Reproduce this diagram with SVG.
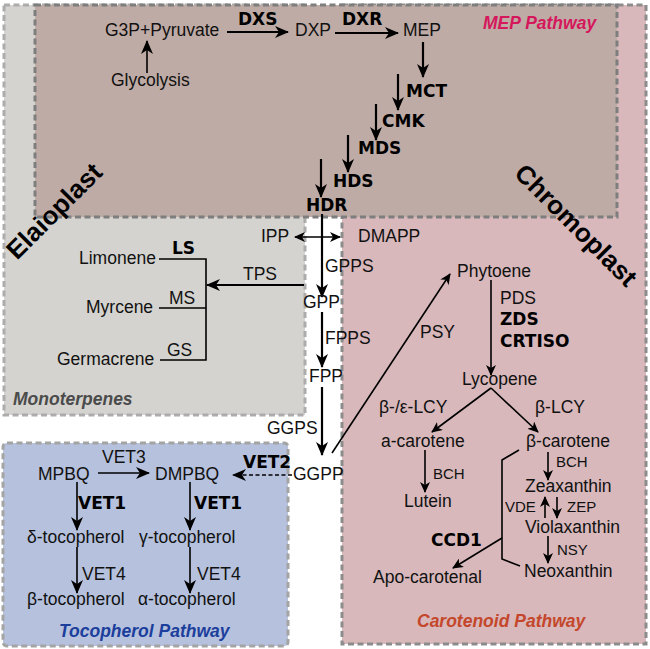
<svg xmlns="http://www.w3.org/2000/svg" width="650" height="649" viewBox="0 0 650 649">
<defs>
<style>
.t{font-family:"Liberation Sans",Arial,sans-serif;font-size:17.5px;fill:#111}
.s{font-size:15px}
.b{font-family:"DejaVu Sans",Verdana,sans-serif;font-weight:bold;font-size:17px;fill:#000}
.ti{font-family:"Liberation Sans",Arial,sans-serif;font-weight:bold;font-style:italic;font-size:17.5px}
.big{font-family:"Liberation Sans",Arial,sans-serif;font-weight:bold;font-size:26px;fill:#000}
.ln{stroke:#000;stroke-width:1.6;fill:none}
.th{stroke-width:2.2}
.reg{stroke-width:3;stroke-dasharray:6 3.5}
</style>
<marker id="ah" markerWidth="14" markerHeight="12" refX="13" refY="6" orient="auto" markerUnits="userSpaceOnUse"><path d="M0,0 L14,6 L0,12 L4,6 z" fill="#000"/></marker>
<marker id="as" markerWidth="11" markerHeight="10" refX="10" refY="5" orient="auto" markerUnits="userSpaceOnUse"><path d="M0,0 L11,5 L0,10 L3,5 z" fill="#000"/></marker>
<marker id="ass" markerWidth="11" markerHeight="10" refX="1" refY="5" orient="auto" markerUnits="userSpaceOnUse"><path d="M11,0 L0,5 L11,10 L8,5 z" fill="#000"/></marker>
</defs>
<rect width="650" height="649" fill="#fff"/>
<g id="regions">
<rect id="elaioplast-region" x="4" y="5" width="301" height="410" fill="#d4d3cf" stroke="#acacac" class="reg"/>
<rect id="chromoplast-region" x="342" y="5" width="304" height="639" fill="#d8b8bb" stroke="#8c8c8c" class="reg"/>
<rect id="mep-region" x="35" y="5" width="582" height="212" fill="#bfaba5" stroke="#7e7e7e" class="reg"/>
<rect id="tocopherol-region" x="3" y="443" width="285" height="203" rx="4" fill="#b5c1dd" stroke="#a4a4a4" class="reg"/>
</g>
<g id="region-labels">
<text class="big" text-anchor="middle" transform="translate(54,211) rotate(-45)" y="9">Elaioplast</text>
<text class="big" text-anchor="middle" transform="translate(576,225) rotate(45)" y="9">Chromoplast</text>
<text class="ti" x="483" y="29" fill="#d5175c">MEP Pathway</text>
<text class="ti" x="13" y="405" fill="#4b4b4b">Monoterpenes</text>
<text class="ti" x="59" y="637" fill="#1c3e9c">Tocopherol Pathway</text>
<text class="ti" x="417" y="627" fill="#c4472b">Carotenoid Pathway</text>
</g>
<g id="connectors">
<line class="ln" x1="147" y1="73" x2="147" y2="41" marker-end="url(#ah)"/>
<line class="ln th" x1="227" y1="32" x2="288" y2="32" marker-end="url(#ah)"/>
<line class="ln th" x1="335" y1="33" x2="398" y2="33" marker-end="url(#ah)"/>
<line class="ln th" x1="423" y1="42" x2="423" y2="77" marker-end="url(#ah)"/>
<line class="ln th" x1="398" y1="74" x2="398" y2="110" marker-end="url(#ah)"/>
<line class="ln th" x1="376" y1="104" x2="376" y2="140" marker-end="url(#ah)"/>
<line class="ln th" x1="348" y1="135" x2="348" y2="172" marker-end="url(#ah)"/>
<line class="ln th" x1="321" y1="159" x2="321" y2="197" marker-end="url(#ah)"/>
<line class="ln th" x1="322" y1="214" x2="322" y2="297" marker-end="url(#ah)"/>
<line class="ln" x1="295" y1="237" x2="340" y2="237" marker-start="url(#ass)" marker-end="url(#as)"/>
<line class="ln th" x1="304" y1="285" x2="207" y2="285" marker-end="url(#ah)"/>
<line class="ln th" x1="322" y1="312" x2="322" y2="367" marker-end="url(#ah)"/>
<line class="ln th" x1="322" y1="387" x2="322" y2="455" marker-end="url(#ah)"/>
<line class="ln" x1="332" y1="453" x2="450" y2="274" marker-end="url(#as)"/>
<line class="ln" x1="491" y1="280" x2="491" y2="375" marker-end="url(#as)"/>
<line class="ln" x1="491" y1="388" x2="432" y2="432" marker-end="url(#as)"/>
<line class="ln" x1="491" y1="388" x2="538" y2="432" marker-end="url(#as)"/>
<line class="ln" x1="425" y1="450" x2="425" y2="492" marker-end="url(#as)"/>
<line class="ln" x1="548" y1="452" x2="548" y2="480" marker-end="url(#as)"/>
<line class="ln" x1="545" y1="518" x2="545" y2="497" marker-end="url(#as)"/>
<line class="ln" x1="557" y1="497" x2="557" y2="518" marker-end="url(#as)"/>
<line class="ln" x1="548" y1="536" x2="548" y2="563" marker-end="url(#as)"/>
<polyline class="ln" points="519,450 502,460 502,559 520,566"/>
<line class="ln" x1="502" y1="538" x2="453" y2="568" marker-end="url(#as)"/>
<line class="ln" x1="292" y1="475" x2="233" y2="475" stroke-dasharray="4 2.5" marker-end="url(#ah)"/>
<line class="ln" x1="98" y1="473" x2="149" y2="473" marker-end="url(#ah)"/>
<line class="ln" x1="77" y1="482" x2="77" y2="530" marker-end="url(#ah)"/>
<line class="ln" x1="77" y1="547" x2="77" y2="593" marker-end="url(#ah)"/>
<line class="ln" x1="190" y1="482" x2="190" y2="530" marker-end="url(#ah)"/>
<line class="ln" x1="190" y1="547" x2="190" y2="593" marker-end="url(#ah)"/>
<polyline class="ln" points="159,259 206,259 206,360 160,360"/>
<line class="ln" x1="159" y1="308" x2="206" y2="308"/>
</g>
<g id="enzyme-labels">
<text class="b" x="238" y="25">DXS</text>
<text class="b" x="342" y="25">DXR</text>
<text class="b" x="406" y="97">MCT</text>
<text class="b" x="382" y="127">CMK</text>
<text class="b" x="358" y="154">MDS</text>
<text class="b" x="333" y="187">HDS</text>
<text class="b" x="306" y="211">HDR</text>
<text class="t" x="325" y="272">GPPS</text>
<text class="t" x="325" y="344">FPPS</text>
<text class="t" x="267" y="434">GGPS</text>
<text class="t" x="243" y="280">TPS</text>
<text class="b" x="172" y="254">LS</text>
<text class="t" x="169" y="304">MS</text>
<text class="t" x="167" y="356">GS</text>
<text class="t" x="420" y="338">PSY</text>
<text class="t" x="500" y="304">PDS</text>
<text class="b" x="500" y="325">ZDS</text>
<text class="b" x="500" y="347">CRTISO</text>
<text class="t" x="379" y="413">β-/ε-LCY</text>
<text class="t" x="535" y="413">β-LCY</text>
<text class="t s" x="433" y="479">BCH</text>
<text class="t s" x="556" y="467">BCH</text>
<text class="t s" x="505" y="512">VDE</text>
<text class="t s" x="567" y="512">ZEP</text>
<text class="t s" x="557" y="555">NSY</text>
<text class="b" x="431" y="546">CCD1</text>
<text class="t" x="102" y="463">VET3</text>
<text class="b" x="243" y="468">VET2</text>
<text class="b" x="78" y="509">VET1</text>
<text class="b" x="194" y="509">VET1</text>
<text class="t" x="82" y="580">VET4</text>
<text class="t" x="197" y="580">VET4</text>
</g>
<g id="n-g3p"><text class="t" x="105" y="36">G3P+Pyruvate</text></g>
<g id="n-glycolysis"><text class="t" x="111" y="86">Glycolysis</text></g>
<g id="n-dxp"><text class="t" x="295" y="36">DXP</text></g>
<g id="n-mep"><text class="t" x="403" y="36">MEP</text></g>
<g id="n-ipp"><text class="t" x="261" y="242">IPP</text></g>
<g id="n-dmapp"><text class="t" x="358" y="242">DMAPP</text></g>
<g id="n-gpp"><text class="t" x="303" y="308">GPP</text></g>
<g id="n-fpp"><text class="t" x="309" y="382">FPP</text></g>
<g id="n-ggpp"><text class="t" x="293" y="480">GGPP</text></g>
<g id="n-limonene"><text class="t" x="79" y="264">Limonene</text></g>
<g id="n-myrcene"><text class="t" x="86" y="313">Myrcene</text></g>
<g id="n-germacrene"><text class="t" x="57" y="365">Germacrene</text></g>
<g id="n-phytoene"><text class="t" x="457" y="277">Phytoene</text></g>
<g id="n-lycopene"><text class="t" x="462" y="385">Lycopene</text></g>
<g id="n-acarotene"><text class="t" x="381" y="447">a-carotene</text></g>
<g id="n-bcarotene"><text class="t" x="526" y="447">β-carotene</text></g>
<g id="n-lutein"><text class="t" x="404" y="507">Lutein</text></g>
<g id="n-zeaxanthin"><text class="t" x="525" y="492">Zeaxanthin</text></g>
<g id="n-violaxanthin"><text class="t" x="525" y="533">Violaxanthin</text></g>
<g id="n-neoxanthin"><text class="t" x="524" y="577">Neoxanthin</text></g>
<g id="n-apocarotenal"><text class="t" x="373" y="583">Apo-carotenal</text></g>
<g id="n-mpbq"><text class="t" x="38" y="480">MPBQ</text></g>
<g id="n-dmpbq"><text class="t" x="155" y="480">DMPBQ</text></g>
<g id="n-dtoc"><text class="t" x="27" y="543">δ-tocopherol</text></g>
<g id="n-gtoc"><text class="t" x="139" y="543">γ-tocopherol</text></g>
<g id="n-btoc"><text class="t" x="27" y="605">β-tocopherol</text></g>
<g id="n-atoc"><text class="t" x="138" y="605">α-tocopherol</text></g>
</svg>
